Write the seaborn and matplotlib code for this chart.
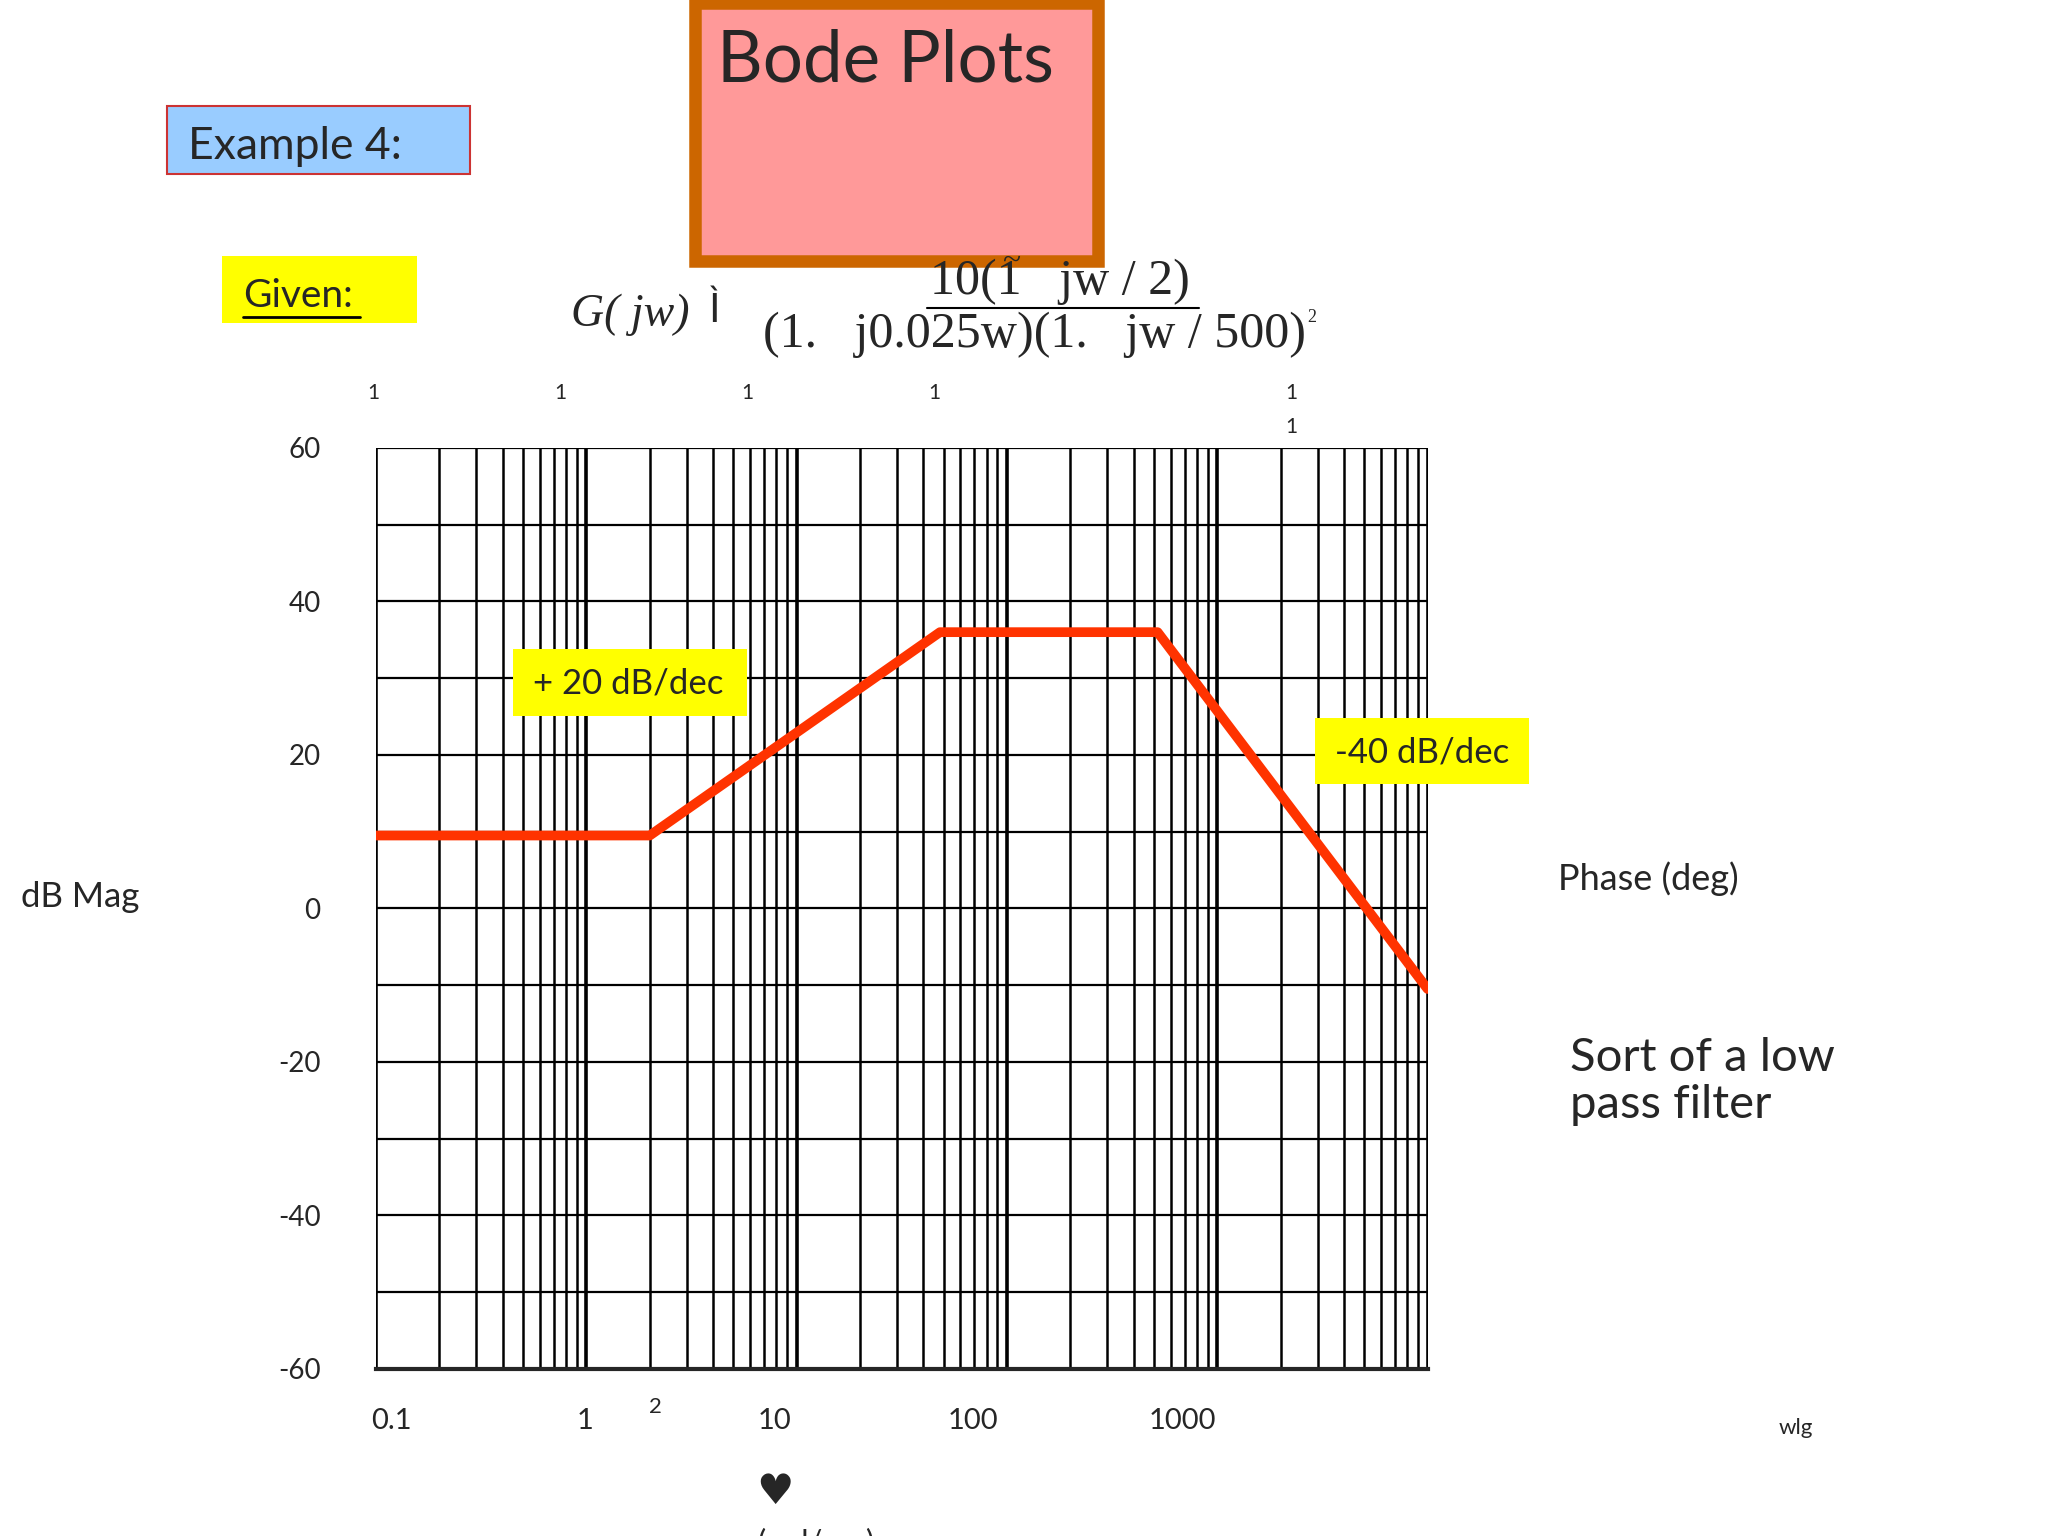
import matplotlib
matplotlib.use("Agg")
import matplotlib.pyplot as plt
import seaborn as sns
import numpy as np
import pandas as pd
from matplotlib.patches import Rectangle

sns.set_style("white")
plt.rcParams['font.family'] = ['Lato', 'DejaVu Sans']

# asymptotic magnitude data (rad/sec, dB)
freq = [0.1, 2, 48, 520, 10000]
mag_db = [9.5, 9.5, 36, 36, -10.5]
ytick_vals = [60, 40, 20, 0, -20, -40, -60]
xtick_labels = ["0.1", "1", "10", "100", "1000"]

W, H = 1568, 1176
def fx(x): return x / W
def fy(y): return 1 - y / H

fig = plt.figure(figsize=(20.48, 15.36), dpi=100)
ax = fig.add_axes([fx(288), fy(1048), fx(1093) - fx(288), fy(343) - fy(1048)])

df = pd.DataFrame({"w": freq, "dB": mag_db})
ax.set_xscale("log")
ax.set_xlim(0.1, 10000)
ax.set_ylim(-60, 60)
for d in range(-1, 4):
    for k in range(1, 10):
        v = k * 10.0 ** d
        ax.axvline(v, color="black", lw=2.6 if k == 1 else 1.8, zorder=1)
ax.axvline(10000, color="black", lw=2.6, zorder=1)
for yv in range(-60, 61, 10):
    ax.axhline(yv, color="black", lw=1.6, zorder=1)
sns.lineplot(data=df, x="w", y="dB", ax=ax, color="#FF3300", lw=7, zorder=3)
ax.set_xlabel(""); ax.set_ylabel("")
ax.set_xticks([])
ax.minorticks_off()
ax.set_yticks(ytick_vals)
ax.set_yticklabels([str(v) for v in ytick_vals], fontsize=20)
ax.tick_params(axis="y", length=20, width=1.6, color="black", pad=20)
for s in ax.spines.values():
    s.set_visible(False)
ax.spines["bottom"].set_visible(True); ax.spines["bottom"].set_linewidth(3)

fig.patches.append(Rectangle((fx(532), fy(200)), fx(841) - fx(532), fy(2) - fy(200),
                             transform=fig.transFigure, facecolor="#FF9999",
                             edgecolor="#CC6600", lw=9))
fig.text(fx(549), fy(47), "Bode Plots", fontsize=51, va="center", ha="left")
fig.patches.append(Rectangle((fx(128), fy(133)), fx(360) - fx(128), fy(81) - fy(133),
                             transform=fig.transFigure, facecolor="#99CCFF",
                             edgecolor="#CC3333", lw=1.5))
fig.text(fx(144), fy(112), "Example 4:", fontsize=32, va="center")
fig.patches.append(Rectangle((fx(170), fy(247)), fx(319) - fx(170), fy(196) - fy(247),
                             transform=fig.transFigure, facecolor="#FFFF00", edgecolor="none"))
fig.text(fx(186), fy(227), "Given:", fontsize=28, va="center")
fig.add_artist(plt.Line2D([fx(186), fx(276)], [fy(243), fy(243)], color="black", lw=2,
                          transform=fig.transFigure))

serif = ['Liberation Serif', 'DejaVu Serif']
fig.text(fx(437), fy(241), "G( jw)", fontsize=33, style="italic", family=serif, va="center")
fig.text(fx(543), fy(238), "Ì", fontsize=28, family=['DejaVu Sans'], va="center")
fig.text(fx(712), fy(216), "10(1   jw / 2)", fontsize=36, family=serif, va="center")
fig.add_artist(plt.Line2D([fx(710), fx(918)], [fy(236), fy(236)], color="black", lw=1.5,
                          transform=fig.transFigure))
fig.text(fx(767), fy(200), "~", fontsize=24, family=serif, va="center")
fig.text(fx(584), fy(256), "(1.   j0.025w)(1.   jw / 500)", fontsize=36, family=serif, va="center")
fig.text(fx(1001), fy(243), "2", fontsize=13, family=serif, va="center")

for x in [286, 429, 572, 715, 989]:
    fig.text(fx(x), fy(301), "1", fontsize=15, ha="center", va="center")
fig.text(fx(989), fy(327), "1", fontsize=15, ha="center", va="center")

fig.patches.append(Rectangle((fx(393), fy(548)), fx(572) - fx(393), fy(497) - fy(548),
                             transform=fig.transFigure, facecolor="#FFFF00", edgecolor="none", zorder=5))
fig.text(fx(481), fy(523), "+ 20 dB/dec", fontsize=25, ha="center", va="center", zorder=6)
fig.patches.append(Rectangle((fx(1007), fy(600)), fx(1171) - fx(1007), fy(550) - fy(600),
                             transform=fig.transFigure, facecolor="#FFFF00", edgecolor="none", zorder=5))
fig.text(fx(1089), fy(576), "-40 dB/dec", fontsize=25, ha="center", va="center", zorder=6)

fig.text(fx(16), fy(687), "dB Mag", fontsize=25, va="center")
fig.text(fx(1193), fy(673), "Phase (deg)", fontsize=26, va="center")
fig.text(fx(1202), fy(828), "Sort of a low\npass filter", fontsize=34, va="center", linespacing=1.15)
fig.text(fx(1362), fy(1093), "wlg", fontsize=16, va="center")

for lab, x in zip(xtick_labels, [300, 448, 593, 745, 905]):
    fig.text(fx(x), fy(1088), lab, fontsize=21, ha="center", va="center")
fig.text(fx(502), fy(1077), "2", fontsize=16, ha="center", va="center")
fig.text(fx(593), fy(1142), "♥", fontsize=30, ha="center", va="center", family=['DejaVu Sans'])
fig.text(fx(580), fy(1192), "(rad/sec)", fontsize=22, ha="left", va="bottom")

fig.savefig("out.png", dpi=100)
